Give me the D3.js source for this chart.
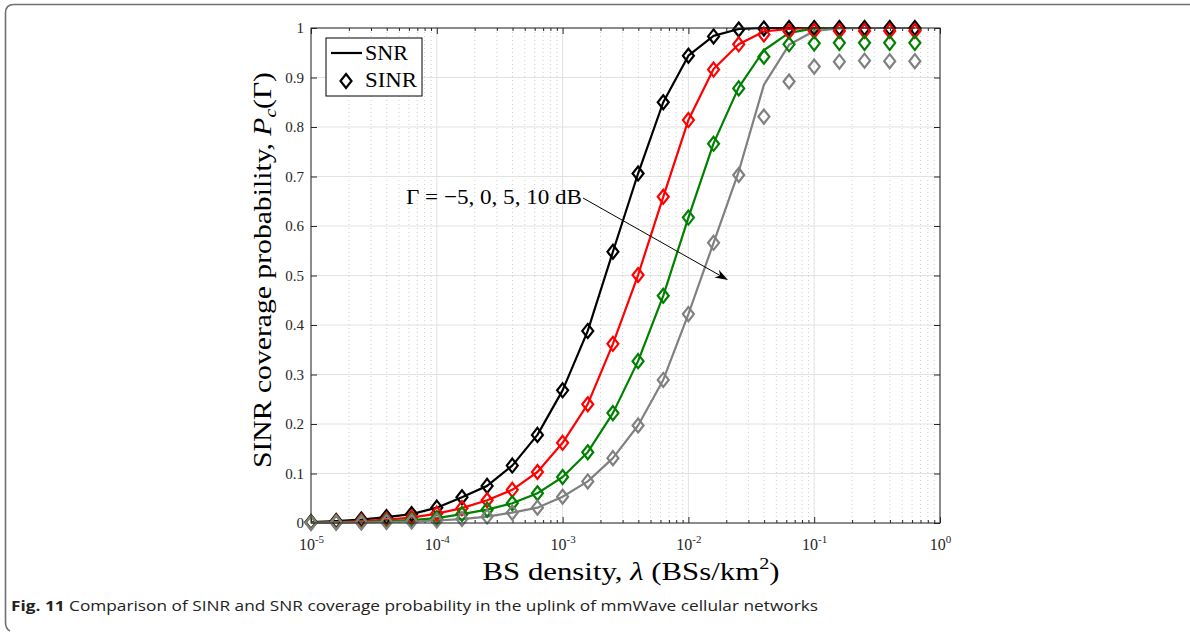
<!DOCTYPE html>
<html><head><meta charset="utf-8">
<script src="https://cdn.jsdelivr.net/npm/d3@7"></script>
<style>body{margin:0;background:#fff;} svg{display:block;}</style>
</head><body>
<svg id="c" width="1190" height="633"></svg>
<script>
// ---------- data ----------
const exponents = [-5,-4.8,-4.6,-4.4,-4.2,-4,-3.8,-3.6,-3.4,-3.2,-3,-2.8,-2.6,-2.4,-2.2,-2,-1.8,-1.6,-1.4,-1.2,-1,-0.8,-0.6,-0.4,-0.2];
const xTickValues = [1e-5,1e-4,1e-3,1e-2,1e-1,1];
const xTickExps = ["-5","-4","-3","-2","-1","0"];
const yTickValues = [0,0.1,0.2,0.3,0.4,0.5,0.6,0.7,0.8,0.9,1];
const yTickLabels = ["0","0.1","0.2","0.3","0.4","0.5","0.6","0.7","0.8","0.9","1"];
const seriesColors = ["#000000","#ff0000","#008000","#808080"];

// Gamma = -5 dB
const snrM5  = [0.002,0.004,0.007,0.012,0.018,0.031,0.052,0.075,0.116,0.178,0.268,0.388,0.548,0.706,0.850,0.944,0.984,0.998,1,1,1,1,1,1,1];
const sinrM5 = [0.002,0.004,0.007,0.012,0.018,0.031,0.052,0.075,0.116,0.178,0.268,0.388,0.548,0.706,0.850,0.944,0.983,0.997,0.999,1,1,1,1,1,1];
// Gamma = 0 dB
const snr0   = [0.001,0.002,0.004,0.007,0.011,0.019,0.030,0.046,0.067,0.103,0.162,0.240,0.362,0.501,0.659,0.814,0.917,0.967,0.993,0.998,1,1,1,1,1];
const sinr0  = [0.001,0.002,0.004,0.007,0.011,0.019,0.030,0.046,0.067,0.103,0.162,0.240,0.362,0.501,0.659,0.814,0.916,0.967,0.987,0.993,0.994,0.994,0.994,0.994,0.994];
// Gamma = 5 dB
const snr5   = [0.001,0.001,0.002,0.004,0.006,0.010,0.018,0.027,0.040,0.060,0.093,0.143,0.222,0.327,0.459,0.617,0.767,0.880,0.955,0.990,0.999,1,1,1,1];
const sinr5  = [0.001,0.001,0.002,0.004,0.006,0.010,0.018,0.027,0.040,0.060,0.093,0.143,0.222,0.327,0.459,0.617,0.766,0.878,0.942,0.967,0.969,0.970,0.970,0.970,0.970];
// Gamma = 10 dB
const snr10  = [0,0.001,0.001,0.002,0.003,0.005,0.008,0.013,0.021,0.031,0.053,0.084,0.131,0.197,0.289,0.422,0.566,0.710,0.885,0.966,0.994,0.999,1,1,1];
const sinr10 = [0,0.001,0.001,0.002,0.003,0.005,0.008,0.013,0.021,0.031,0.053,0.084,0.131,0.197,0.289,0.422,0.566,0.703,0.821,0.892,0.922,0.932,0.934,0.933,0.933];

const snrSeries = [snrM5, snr0, snr5, snr10];
const sinrSeries = [sinrM5, sinr0, sinr5, sinr10];
const xValues = exponents.map(e => Math.pow(10, e));

// ---------- layout ----------
const L = 311, R = 940, T = 28, B = 523;
const svg = d3.select("#c");
const x = d3.scaleLog().domain([1e-5, 1]).range([L, R]);
const y = d3.scaleLinear().domain([0, 1]).range([B, T]);
const serif = "'Liberation Serif','Times New Roman',serif";
const axisColor = "#262626";

// outer frame
svg.append("path")
  .attr("d", "M10,631 Q5.5,629 5.5,622 L5.5,13 Q5.5,4.5 14,4.5 L1190,4.5")
  .attr("fill", "none").attr("stroke", "#707070").attr("stroke-width", 1.6);

// plot background
svg.append("rect").attr("x", L).attr("y", T).attr("width", R - L).attr("height", B - T).attr("fill", "#fff");

// grid
const minorX = x.ticks().filter(v => !xTickValues.some(t => Math.abs(t - v) / t < 1e-9));
const grid = svg.append("g");
grid.selectAll(".mx").data(minorX).join("line")
  .attr("x1", d => x(d)).attr("x2", d => x(d)).attr("y1", T).attr("y2", B)
  .attr("stroke", "#cfcfcf").attr("stroke-width", 1).attr("stroke-dasharray", "1,3");
grid.selectAll(".gx").data(xTickValues).join("line")
  .attr("x1", d => x(d)).attr("x2", d => x(d)).attr("y1", T).attr("y2", B)
  .attr("stroke", "#e2e2e2").attr("stroke-width", 1);
grid.selectAll(".gy").data(yTickValues).join("line")
  .attr("x1", L).attr("x2", R).attr("y1", d => y(d)).attr("y2", d => y(d))
  .attr("stroke", "#e2e2e2").attr("stroke-width", 1);

// axes (ticks inside)
function styleAxis(g) {
  g.select(".domain").remove();
  g.selectAll(".tick line").attr("stroke", axisColor).attr("stroke-width", 1);
}
const xb = svg.append("g").attr("transform", `translate(0,${B})`)
  .call(d3.axisBottom(x).tickValues(xTickValues).tickSizeInner(-6).tickSizeOuter(0).tickFormat(""));
styleAxis(xb);
const xbm = svg.append("g").attr("transform", `translate(0,${B})`)
  .call(d3.axisBottom(x).tickValues(minorX).tickSizeInner(-3).tickSizeOuter(0).tickFormat(""));
styleAxis(xbm);
const xt = svg.append("g").attr("transform", `translate(0,${T})`)
  .call(d3.axisTop(x).tickValues(xTickValues).tickSizeInner(-6).tickSizeOuter(0).tickFormat(""));
styleAxis(xt);
const xtm = svg.append("g").attr("transform", `translate(0,${T})`)
  .call(d3.axisTop(x).tickValues(minorX).tickSizeInner(-3).tickSizeOuter(0).tickFormat(""));
styleAxis(xtm);
const yl = svg.append("g").attr("transform", `translate(${L},0)`)
  .call(d3.axisLeft(y).tickValues(yTickValues).tickSizeInner(-6).tickSizeOuter(0).tickPadding(7)
    .tickFormat((d, i) => yTickLabels[i]));
styleAxis(yl);
yl.selectAll("text").attr("font-family", serif).attr("font-size", 15).attr("fill", axisColor);
const yr = svg.append("g").attr("transform", `translate(${R},0)`)
  .call(d3.axisRight(y).tickValues(yTickValues).tickSizeInner(-6).tickSizeOuter(0).tickFormat(""));
styleAxis(yr);

// x tick labels 10^n
xb.selectAll(".tick").each(function(d, i) {
  const t = d3.select(this).append("text").attr("y", 27).attr("text-anchor", "middle")
    .attr("font-family", serif).attr("fill", axisColor).attr("font-size", 16);
  t.append("tspan").text("10");
  t.append("tspan").attr("font-size", 11).attr("dy", -7).text(xTickExps[i]);
});

// series
const lineGen = d3.line().x((d, i) => x(xValues[i])).y(d => y(d));
const diamond = "M0,-7 L5.5,0 L0,7 L-5.5,0 Z";
const plot = svg.append("g");
snrSeries.forEach((s, k) => {
  plot.append("path").datum(s).attr("d", lineGen).attr("fill", "none")
    .attr("stroke", seriesColors[k]).attr("stroke-width", 2.2).attr("stroke-linejoin", "round");
});
sinrSeries.forEach((s, k) => {
  plot.append("g").selectAll("path").data(s).join("path")
    .attr("d", diamond)
    .attr("transform", (d, i) => `translate(${x(xValues[i])},${y(d)})`)
    .attr("fill", "none").attr("stroke", seriesColors[k]).attr("stroke-width", 2.2);
});

// box
svg.append("rect").attr("x", L).attr("y", T).attr("width", R - L).attr("height", B - T)
  .attr("fill", "none").attr("stroke", axisColor).attr("stroke-width", 1);

// legend
const lg = svg.append("g");
lg.append("rect").attr("x", 326).attr("y", 38).attr("width", 96).attr("height", 58)
  .attr("fill", "#fff").attr("stroke", "#000").attr("stroke-width", 1);
lg.append("line").attr("x1", 331).attr("x2", 362).attr("y1", 53).attr("y2", 53)
  .attr("stroke", "#000").attr("stroke-width", 2.2);
lg.append("text").attr("x", 365).attr("y", 60).attr("font-family", serif).attr("font-size", 21)
  .attr("textLength", 43).attr("lengthAdjust", "spacingAndGlyphs").text("SNR");
lg.append("path").attr("d", diamond).attr("transform", "translate(346,81)")
  .attr("fill", "none").attr("stroke", "#000").attr("stroke-width", 2.2);
lg.append("text").attr("x", 365).attr("y", 87).attr("font-family", serif).attr("font-size", 21)
  .attr("textLength", 52).attr("lengthAdjust", "spacingAndGlyphs").text("SINR");

// annotation
svg.append("text").attr("x", 406).attr("y", 204).attr("font-family", serif).attr("font-size", 22)
  .attr("textLength", 176).attr("lengthAdjust", "spacingAndGlyphs")
  .text("Γ = −5, 0, 5, 10 dB");
const ax0 = 583, ay0 = 198, ax1 = 728, ay1 = 280;
svg.append("line").attr("x1", ax0).attr("y1", ay0).attr("x2", ax1 - 6).attr("y2", ay1 - 3.4)
  .attr("stroke", "#000").attr("stroke-width", 1);
const ang = Math.atan2(ay1 - ay0, ax1 - ax0) * 180 / Math.PI;
svg.append("path").attr("d", "M0,0 L-13,-4.5 L-9,0 L-13,4.5 Z")
  .attr("transform", `translate(${ax1},${ay1}) rotate(${ang})`).attr("fill", "#000");

// axis labels
const xlab = svg.append("text").attr("x", 631).attr("y", 580).attr("text-anchor", "middle")
  .attr("font-family", serif).attr("font-size", 26).attr("fill", "#000")
  .attr("textLength", 297).attr("lengthAdjust", "spacingAndGlyphs");
xlab.append("tspan").text("BS density, ");
xlab.append("tspan").attr("font-style", "italic").text("λ");
xlab.append("tspan").text(" (BSs/km");
xlab.append("tspan").attr("font-size", 17).attr("dy", -11).text("2");
xlab.append("tspan").attr("dy", 11).text(")");

const ylab = svg.append("text").attr("transform", "translate(271,270) rotate(-90)")
  .attr("text-anchor", "middle").attr("font-family", serif).attr("font-size", 26).attr("fill", "#000")
  .attr("textLength", 396).attr("lengthAdjust", "spacingAndGlyphs");
ylab.append("tspan").text("SINR coverage probability, ");
ylab.append("tspan").attr("font-style", "italic").text("P");
ylab.append("tspan").attr("font-style", "italic").attr("font-size", 17).attr("dy", 5).text("c");
ylab.append("tspan").attr("dy", -5).text("(Γ)");

// caption
const cap = svg.append("text").attr("x", 11).attr("y", 611)
  .attr("font-family", "'Open Sans','Noto Sans',sans-serif").attr("font-size", 14.5).attr("fill", "#222")
  .attr("textLength", 807).attr("lengthAdjust", "spacingAndGlyphs");
cap.append("tspan").attr("font-weight", "bold").text("Fig. 11");
cap.append("tspan").text(" Comparison of SINR and SNR coverage probability in the uplink of mmWave cellular networks");
</script>
</body></html>
